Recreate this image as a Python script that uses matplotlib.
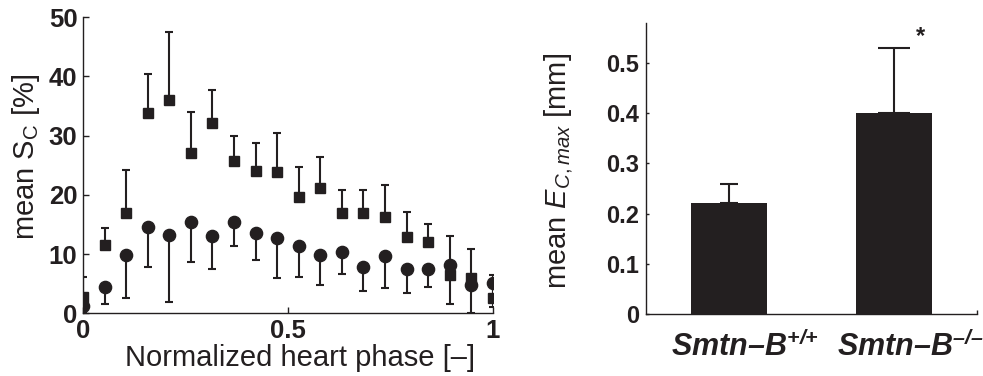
import numpy as np
import matplotlib
matplotlib.use('Agg')
import matplotlib.pyplot as plt
from matplotlib import transforms

plt.rcParams['font.family'] = ['Liberation Sans', 'DejaVu Sans']
plt.rcParams['mathtext.fontset'] = 'custom'
plt.rcParams['mathtext.rm'] = 'Liberation Sans'
plt.rcParams['mathtext.it'] = 'Liberation Sans:italic'
plt.rcParams['mathtext.bf'] = 'Liberation Sans:italic:bold'

# 左图: 心动周期的应变
phase = np.linspace(0, 1, 20)
sq_mean = [2.8, 11.5, 17.0, 33.9, 36.0, 27.1, 32.2, 25.8, 24.1, 23.8,
           19.6, 21.1, 17.0, 16.9, 16.2, 12.9, 12.0, 6.4, 5.9, 2.5]
sq_upper = [6.2, 14.4, 24.2, 40.5, 47.5, 34.0, 37.7, 30.0, 28.7, 30.4,
            24.7, 26.4, 20.8, 20.8, 21.7, 17.1, 15.0, 13.1, 10.9, 6.5]
ci_mean = [1.2, 4.5, 9.9, 14.5, 13.3, 15.5, 13.0, 15.4, 13.6, 12.7,
           11.3, 9.9, 10.4, 7.8, 9.6, 7.4, 7.5, 8.2, 4.8, 5.2]
ci_lower = [0.0, 1.6, 2.5, 7.9, 1.9, 8.6, 7.4, 11.3, 9.0, 6.0,
            6.2, 4.7, 6.6, 3.7, 4.3, 3.4, 4.5, 1.6, 0.0, 1.1]

# 右图: 柱状图
groups = ['$\\mathbf{Smtn{\u2013}B}^{\\mathbf{{+}{/}{+}}}$',
          '$\\mathbf{Smtn{\u2013}B}^{\\mathbf{{\u2013}{/}{\u2013}}}$']
bar_mean = [0.221, 0.401]
bar_err = [0.038, 0.129]

col = '#231f20'

fig = plt.figure(figsize=(9.83, 3.76), dpi=100)

ax = fig.add_axes([0.0844, 0.1668, 0.4171, 0.7872])
sq = np.array(sq_mean)
ci = np.array(ci_mean)
ax.errorbar(phase, sq, yerr=[np.zeros_like(sq), np.array(sq_upper) - sq],
            fmt='none', ecolor=col, elinewidth=1.5, capsize=3, capthick=1.5)
ax.errorbar(phase, ci, yerr=[ci - np.array(ci_lower), np.zeros_like(ci)],
            fmt='none', ecolor=col, elinewidth=1.5, capsize=3, capthick=1.5)
ax.plot(phase, sq, 's', color=col, markersize=7.8, linestyle='none')
ax.plot(phase, ci, 'o', color=col, markersize=8.8, linestyle='none')
ax.set_xlim(0, 1)
ax.set_ylim(0, 50)
ax.set_xticks([0, 0.5, 1])
ax.set_xticklabels(['0', '0.5', '1'])
ax.set_yticks([0, 10, 20, 30, 40, 50])
for s in ['top', 'right']:
    ax.spines[s].set_visible(False)
for s in ['left', 'bottom']:
    ax.spines[s].set_linewidth(1.0)
    ax.spines[s].set_color(col)
ax.tick_params(direction='in', length=4, width=1, colors=col, pad=4)
for lab in ax.get_xticklabels() + ax.get_yticklabels():
    lab.set_fontsize(18.5)
    lab.set_fontweight('bold')
ax.set_xlabel('Normalized heart phase [\u2013]', fontsize=21, color=col)
ax.xaxis.set_label_coords(0.53, -0.105)
ax.set_ylabel(r'mean $\mathrm{S_C}$ [%]', fontsize=21, color=col)
ax.yaxis.set_label_coords(-0.1, 0.53)

ax2 = fig.add_axes([0.6572, 0.1649, 0.3364, 0.7747])
xpos = np.arange(1, len(bar_mean) + 1)
ax2.bar(xpos, bar_mean, width=0.46, color=col)
ax2.errorbar(xpos[0], bar_mean[0], yerr=[[0], [bar_err[0]]], fmt='none',
             ecolor=col, elinewidth=1.5, capsize=6.5, capthick=1.5)
ax2.errorbar(xpos[1], bar_mean[1], yerr=[[0], [bar_err[1]]], fmt='none',
             ecolor=col, elinewidth=1.5, capsize=11.5, capthick=1.5)
ax2.text(2.16, 0.553, '*', fontsize=17, fontweight='bold', color=col,
         ha='center', va='center')
ax2.set_xlim(0.5, 2.5)
ax2.set_ylim(0, 0.58)
ax2.set_xticks(xpos)
ax2.set_xticks([2.5], minor=True)
ax2.set_xticklabels(groups, fontsize=22)
ax2.set_yticks([0, 0.1, 0.2, 0.3, 0.4, 0.5])
ax2.set_yticklabels(['0', '0.1', '0.2', '0.3', '0.4', '0.5'])
for s in ['top', 'right']:
    ax2.spines[s].set_visible(False)
for s in ['left', 'bottom']:
    ax2.spines[s].set_linewidth(1.0)
    ax2.spines[s].set_color(col)
ax2.tick_params(axis='y', direction='in', length=2.5, width=1, colors=col, pad=5)
ax2.tick_params(axis='x', which='major', length=0, colors=col, pad=12)
ax2.tick_params(axis='x', which='minor', direction='in', length=3, width=1,
                colors=col)
for lab in ax2.get_yticklabels():
    lab.set_fontsize(17)
    lab.set_fontweight('bold')
shift = transforms.ScaledTranslation(0.16, 0, fig.dpi_scale_trans)
for lab in ax2.get_xticklabels():
    lab.set_transform(lab.get_transform() + shift)
ax2.set_ylabel(r'mean $E_{C,max}$ [mm]', fontsize=21, color=col)
ax2.yaxis.set_label_coords(-0.215, 0.49)

fig.savefig('out.png', dpi=100)
